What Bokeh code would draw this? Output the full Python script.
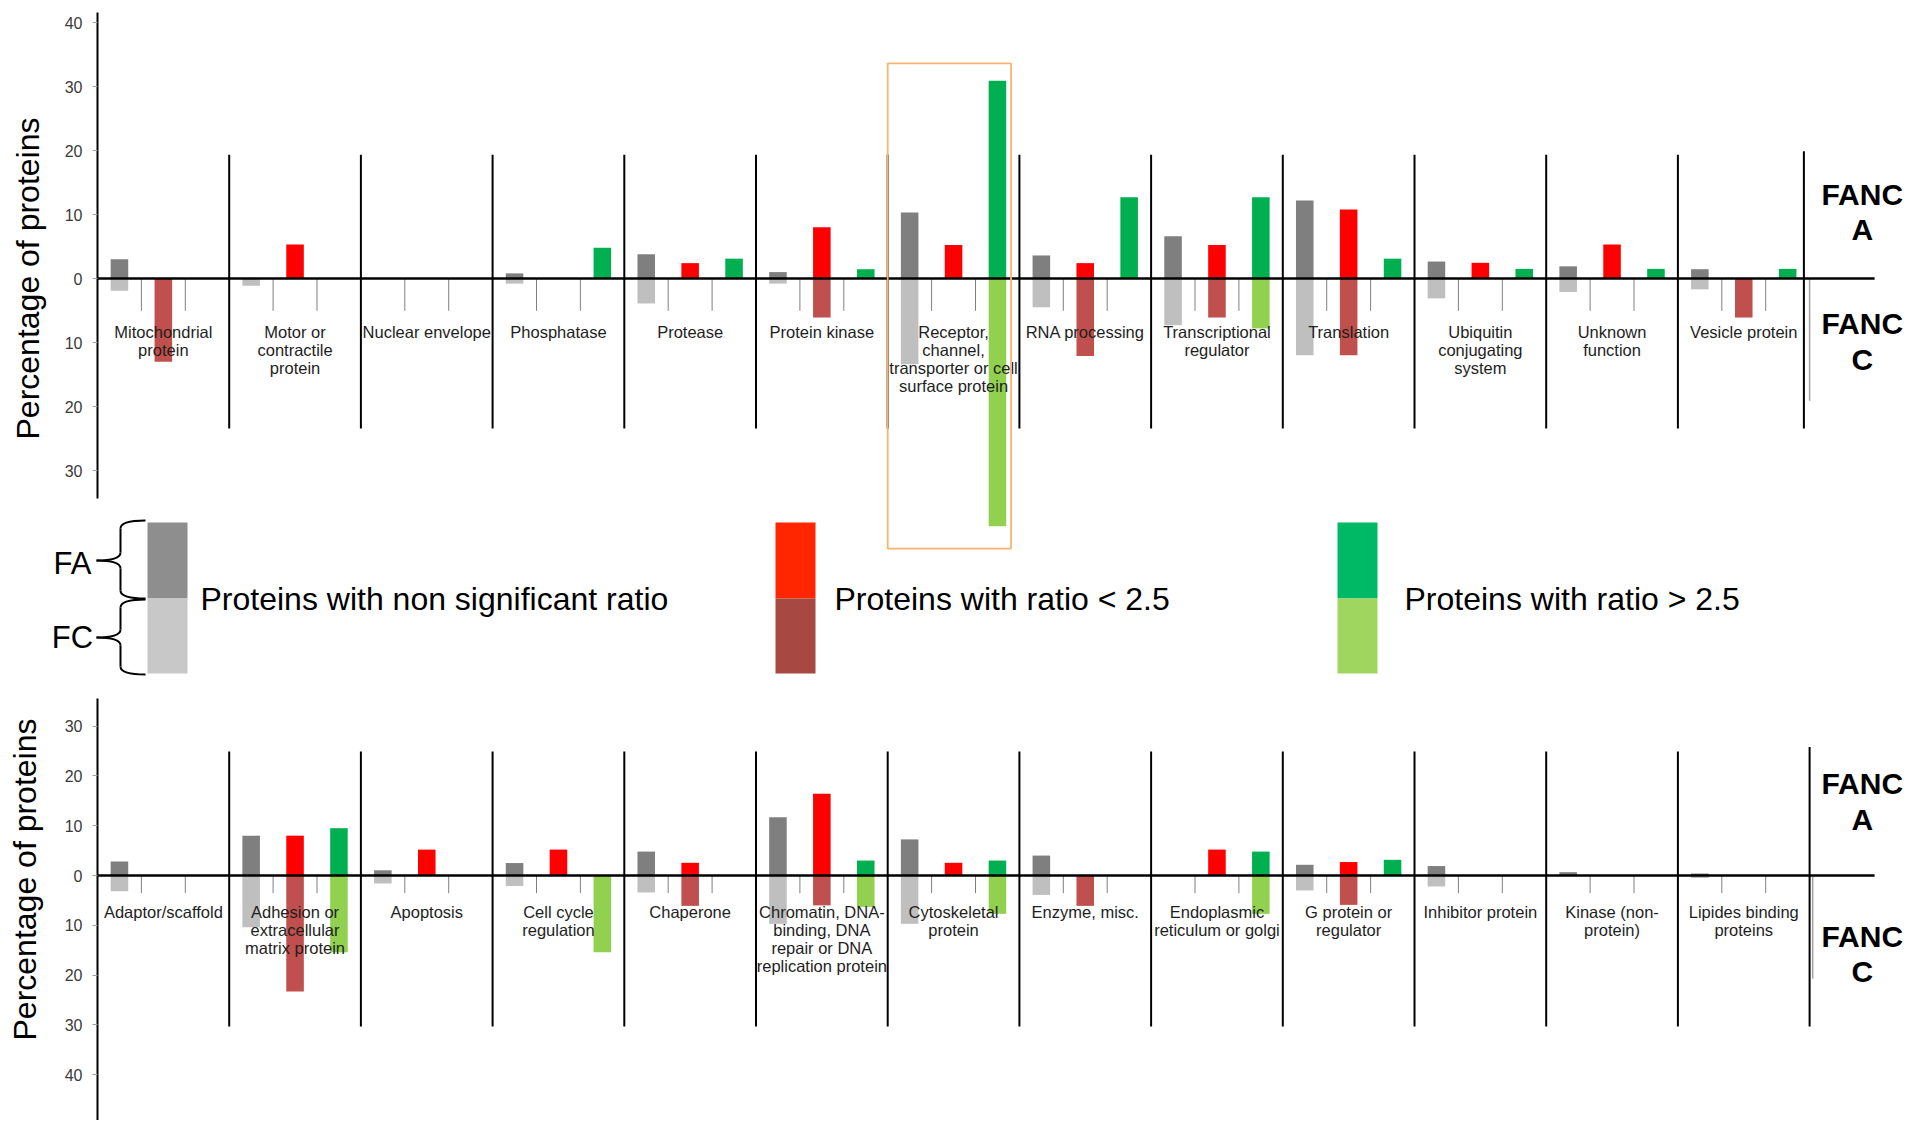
import math
from bokeh.plotting import figure
from bokeh.models import Range1d, FixedTicker, BoxAnnotation
from bokeh.layouts import column
from bokeh.embed import file_html
from bokeh.resources import INLINE
from bokeh.core.properties import value

# ---------------- data ----------------
top_categories = [
    "Mitochondrial\nprotein", "Motor or\ncontractile\nprotein", "Nuclear envelope",
    "Phosphatase", "Protease", "Protein kinase",
    "Receptor,\nchannel,\ntransporter or cell\nsurface protein", "RNA processing",
    "Transcriptional\nregulator", "Translation", "Ubiquitin\nconjugating\nsystem",
    "Unknown\nfunction", "Vesicle protein",
]
top_fanca_nonsig = [3.0, 0, 0, 0.8, 3.8, 1.0, 10.3, 3.6, 6.6, 12.2, 2.65, 1.9, 1.45]
top_fanca_low    = [0, 5.3, 0, 0, 2.4, 8.0, 5.25, 2.4, 5.25, 10.8, 2.45, 5.3, 0]
top_fanca_high   = [0, 0, 0, 4.8, 3.1, 1.45, 30.9, 12.7, 12.7, 3.1, 1.5, 1.5, 1.5]
top_fancc_nonsig = [1.9, 1.15, 0, 0.8, 3.9, 0.8, 13.4, 4.5, 7.3, 12.0, 3.1, 2.1, 1.7]
top_fancc_low    = [13.0, 0, 0, 0, 0, 6.1, 0, 12.1, 6.1, 12.0, 0, 0, 6.1]
top_fancc_high   = [0, 0, 0, 0, 0, 0, 38.7, 0, 7.8, 0, 0, 0, 0]

bottom_categories = [
    "Adaptor/scaffold", "Adhesion or\nextracellular\nmatrix protein", "Apoptosis",
    "Cell cycle\nregulation", "Chaperone",
    "Chromatin, DNA-\nbinding, DNA\nrepair or DNA\nreplication protein",
    "Cytoskeletal\nprotein", "Enzyme, misc.", "Endoplasmic\nreticulum or golgi",
    "G protein or\nregulator", "Inhibitor protein", "Kinase (non-\nprotein)",
    "Lipides binding\nproteins",
]
bottom_fanca_nonsig = [2.8, 8.0, 1.05, 2.5, 4.8, 11.7, 7.25, 4.0, 0, 2.15, 1.9, 0.67, 0.4]
bottom_fanca_low    = [0, 8.0, 5.2, 5.2, 2.55, 16.4, 2.55, 0, 5.2, 2.7, 0, 0, 0]
bottom_fanca_high   = [0, 9.5, 0, 0, 0, 3.0, 3.0, 0, 4.8, 3.15, 0, 0, 0]
bottom_fancc_nonsig = [3.15, 10.4, 1.6, 2.1, 3.4, 9.7, 9.7, 3.9, 0, 3.0, 2.2, 0, 0.5]
bottom_fancc_low    = [0, 23.3, 0, 0, 6.1, 6.0, 0, 6.1, 0, 5.9, 0, 0, 0]
bottom_fancc_high   = [0, 15.4, 0, 15.4, 0, 6.3, 7.7, 0, 7.7, 0, 0, 0, 0]

top_ticks = [-30, -20, -10, 0, 10, 20, 30, 40]
bottom_ticks = [-40, -30, -20, -10, 0, 10, 20, 30]

legend_labels = ["Proteins with non significant ratio", "Proteins with ratio < 2.5",
                 "Proteins with ratio > 2.5"]
legend_sides = ["FA", "FC"]

# ---------------- style / geometry ----------------
FA_COLORS = ["#7f7f7f", "#ff0000", "#00b050"]
FC_COLORS = ["#bfbfbf", "#c0504d", "#92d050"]
LEG_FA = ["#8e8e8e", "#ff2600", "#00b964"]
LEG_FC = ["#c8c8c8", "#a84843", "#9fd65f"]
FONT = "Liberation Sans"
W = 1919
AXIS_PX = 97          # page x of the y axis
SLOT_PX = 43.9        # width of one bar slot (3 slots per category)
X_RANGE = (-AXIS_PX / SLOT_PX, (W - AXIS_PX) / SLOT_PX)


def build_panel(height, y_lo, y_hi, bounds, ticks, cats, fa, fc, cfg):
    p = figure(width=W, height=height, title=None,
               x_range=Range1d(*X_RANGE), y_range=Range1d(y_lo, y_hi),
               x_axis_type=None, output_backend="svg", toolbar_location=None,
               min_border_left=0, min_border_right=0, min_border_top=0,
               min_border_bottom=0, outline_line_color=None,
               background_fill_color="white", border_fill_color="white")
    p.ygrid.visible = False
    ax = p.yaxis[0]
    ax.fixed_location = 0
    ax.ticker = FixedTicker(ticks=ticks)
    ax.major_label_overrides = {t: str(abs(t)) for t in ticks}
    ax.bounds = bounds
    ax.axis_line_color = "black"
    ax.axis_line_width = 2
    ax.major_tick_line_color = "#a0a0a0"
    ax.major_tick_out = 5
    ax.major_tick_in = 0
    ax.minor_tick_out = 0
    ax.minor_tick_in = 0
    ax.major_label_standoff = 10
    ax.major_label_text_font = FONT
    ax.major_label_text_font_size = "16px"
    ax.major_label_text_color = "#3a3a3a"

    n = len(cats)
    for s in range(3):
        xs = [3 * g + s + 0.5 for g in range(n)]
        p.vbar(x=xs, bottom=0, top=fa[s], width=0.4,
               fill_color=FA_COLORS[s], line_color=None)
        p.vbar(x=xs, top=0, bottom=[-v for v in fc[s]], width=0.4,
               fill_color=FC_COLORS[s], line_color=None)

    # small category ticks below zero
    tx = [3 * g + k for g in range(n) for k in (1, 2)]
    p.segment(x0=tx, y0=0, x1=tx, y1=-cfg["tick_len"], line_color="#808080", line_width=1)
    # thin grey line after the last group
    p.segment(x0=[cfg["grey_x"]], y0=[0], x1=[cfg["grey_x"]], y1=[-cfg["grey_len"]],
              line_color="#a0a0a0", line_width=1.5)
    # group separators
    sx = [3 * g for g in range(1, n)]
    p.segment(x0=sx, y0=cfg["sep_top"], x1=sx, y1=cfg["sep_bot"],
              line_color="black", line_width=2)
    p.segment(x0=[cfg["last_x"]], y0=[cfg["last_top"]], x1=[cfg["last_x"]],
              y1=[cfg["sep_bot"]], line_color="black", line_width=2)
    # zero line
    p.segment(x0=[0], y0=[0], x1=[cfg["zero_end"]], y1=[0], line_color="black", line_width=2.5)

    # category labels
    p.text(x=[3 * g + 1.5 for g in range(n)], y=cfg["label_y"], text=cats,
           text_font=value(FONT), text_font_size="16.5px", text_color="#1e1e1e",
           text_align="center", text_baseline="top", text_line_height=1.0)

    # FANC A / FANC C
    p.text(x=[cfg["fanc_x"], cfg["fanc_x"]], y=[cfg["fanca_y"], cfg["fancc_y"]],
           text=["FANC\nA", "FANC\nC"], text_font=value(FONT), text_font_style="bold",
           text_font_size="30px", text_color="black", text_align="center",
           text_baseline="middle", text_line_height=1.08)

    # axis title
    p.text(x=[cfg["title_x"]], y=[cfg["title_y"]], text=["Percentage of proteins"],
           angle=math.pi / 2, text_align="center", text_baseline="middle",
           text_font=value(FONT), text_font_size="32px", text_color="black")
    return p


# ---------------- top panel (with legend) ----------------
TOP_H = 690
ZERO_TOP, UNIT_TOP = 278, 6.4
top = build_panel(
    TOP_H, (ZERO_TOP - TOP_H) / UNIT_TOP, ZERO_TOP / UNIT_TOP, (-34.4, 41.6), top_ticks,
    top_categories,
    [top_fanca_nonsig, top_fanca_low, top_fanca_high],
    [top_fancc_nonsig, top_fancc_low, top_fancc_high],
    dict(tick_len=5.05, grey_x=39.0, grey_len=19.1, sep_top=19.35, sep_bot=-23.45,
         last_x=38.87, last_top=19.9, zero_end=40.48, label_y=-6.9,
         fanc_x=40.2, fanca_y=10.4, fancc_y=-9.8, title_x=(27 - AXIS_PX) / SLOT_PX,
         title_y=0.0))

top.add_layout(BoxAnnotation(left=18.0, right=20.81, top=33.6, bottom=-42.2,
                             fill_color=None, fill_alpha=0, line_color="#f7b46e",
                             line_alpha=1.0, line_width=1.8))

# legend drawn in page-pixel coordinates
top.extra_x_ranges = {"px": Range1d(0, W)}
top.extra_y_ranges = {"py": Range1d(TOP_H, 0)}
leg_left = [147, 775, 1337]
leg_w = 40
y_a, y_m, y_b = 522, 598, 673
top.quad(left=leg_left, right=[l + leg_w for l in leg_left], top=y_a, bottom=y_m,
         fill_color=LEG_FA, line_color=None, x_range_name="px", y_range_name="py")
top.quad(left=leg_left, right=[l + leg_w for l in leg_left], top=y_m, bottom=y_b,
         fill_color=LEG_FC, line_color=None, x_range_name="px", y_range_name="py")
top.text(x=[200, 834, 1404], y=y_m, text=legend_labels, text_font=value(FONT),
         text_font_size="32px", text_color="black", text_align="left",
         text_baseline="middle", x_range_name="px", y_range_name="py")
top.text(x=[72, 72], y=[563, 637], text=legend_sides, text_font=value(FONT),
         text_font_size="31px", text_color="black", text_align="center",
         text_baseline="middle", x_range_name="px", y_range_name="py")

# curly braces
xr, xs_, xt, r = 145, 120, 96, 8
qx0, qy0, qx1, qy1, qcx, qcy = [], [], [], [], [], []
lx0, ly0, lx1, ly1 = [], [], [], []
for (yt, ym, yb) in [(520, 560, 598), (599, 637, 674)]:
    for (a, b, c) in [((xr, yt), (xs_, yt + r), (xs_, yt)),
                      ((xs_, ym - r), (xt, ym), (xs_, ym)),
                      ((xt, ym), (xs_, ym + r), (xs_, ym)),
                      ((xs_, yb - r), (xr, yb), (xs_, yb))]:
        qx0.append(a[0]); qy0.append(a[1]); qx1.append(b[0]); qy1.append(b[1])
        qcx.append(c[0]); qcy.append(c[1])
    lx0 += [xs_, xs_]; ly0 += [yt + r, ym + r]; lx1 += [xs_, xs_]; ly1 += [ym - r, yb - r]
top.quadratic(x0=qx0, y0=qy0, x1=qx1, y1=qy1, cx=qcx, cy=qcy, line_color="black",
              line_width=2, x_range_name="px", y_range_name="py")
top.segment(x0=lx0, y0=ly0, x1=lx1, y1=ly1, line_color="black", line_width=2,
            x_range_name="px", y_range_name="py")

# ---------------- bottom panel ----------------
BOT_H = 430
ZERO_BOT, UNIT_BOT = 875 - TOP_H, 4.98
bottom = build_panel(
    BOT_H, (ZERO_BOT - BOT_H) / UNIT_BOT, ZERO_BOT / UNIT_BOT, (-60, 35.5), bottom_ticks,
    bottom_categories,
    [bottom_fanca_nonsig, bottom_fanca_low, bottom_fanca_high],
    [bottom_fancc_nonsig, bottom_fancc_low, bottom_fancc_high],
    dict(tick_len=3.55, grey_x=39.07, grey_len=20.7, sep_top=24.9, sep_bot=-30.3,
         last_x=39.0, last_top=25.8, zero_end=40.48, label_y=-5.6,
         fanc_x=40.2, fanca_y=14.8, fancc_y=-15.8, title_x=(24.6 - AXIS_PX) / SLOT_PX,
         title_y=-0.8))

layout = column(top, bottom)
open("out.html", "w").write(file_html(layout, INLINE))
